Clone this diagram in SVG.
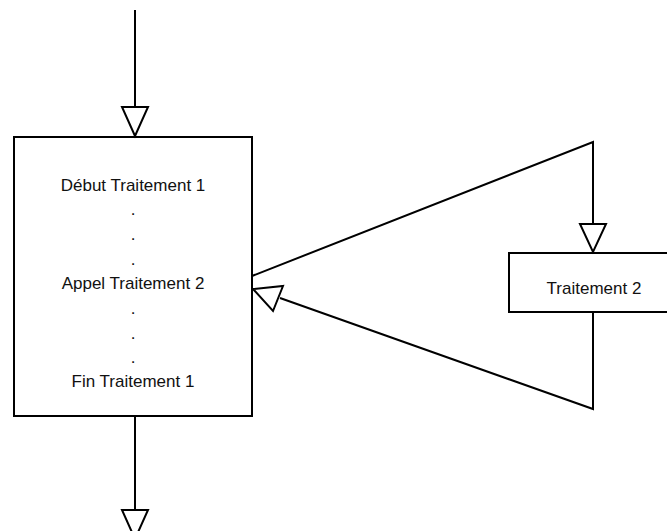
<svg xmlns="http://www.w3.org/2000/svg" width="667" height="531" viewBox="0 0 667 531">
<style>
.box{fill:#fff;stroke:#000;stroke-width:2}
.ln{fill:none;stroke:#000;stroke-width:2}
.ah{fill:#fff;stroke:#000;stroke-width:2;stroke-linejoin:miter}
text{font-family:"Liberation Sans",Arial,sans-serif;font-size:17px;fill:#111;text-anchor:middle}
</style>
<g id="traitement1">
<rect class="box" x="14" y="137" width="238" height="279"/>
<text x="133" y="191">Début Traitement 1</text>
<text x="133" y="215">.</text>
<text x="133" y="240">.</text>
<text x="133" y="265">.</text>
<text x="133" y="289">Appel Traitement 2</text>
<text x="133" y="314">.</text>
<text x="133" y="339">.</text>
<text x="133" y="363">.</text>
<text x="133" y="387">Fin Traitement 1</text>
</g>
<g id="traitement2">
<rect class="box" x="509" y="253" width="168" height="59"/>
<text x="594" y="294">Traitement 2</text>
</g>
<g id="connectors">
<line class="ln" x1="135" y1="10" x2="135" y2="107"/>
<polygon class="ah" points="122,107 148,107 135,136"/>
<line class="ln" x1="135" y1="416" x2="135" y2="510"/>
<polygon class="ah" points="122,510 148,510 135,539"/>
<polyline class="ln" points="252,276 593,142 593,224"/>
<polygon class="ah" points="580,224 606,224 593,252"/>
<polyline class="ln" points="593,312 593,409 280,298"/>
<polygon class="ah" points="283,286 273,311 253,289"/>
</g>
</svg>
